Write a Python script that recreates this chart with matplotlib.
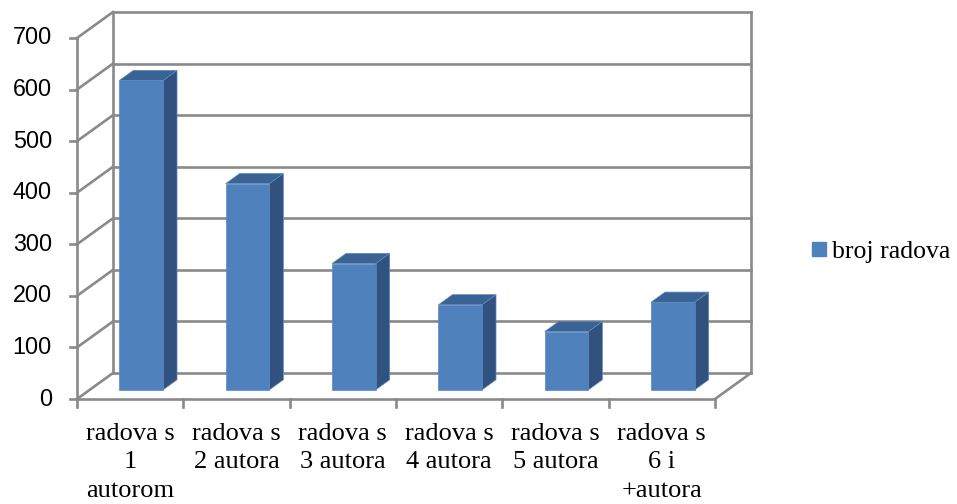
import matplotlib
matplotlib.use("Agg")
import matplotlib.pyplot as plt
from matplotlib.patches import Polygon, Patch

categories = ["radova s\n1\nautorom", "radova s\n2 autora", "radova s\n3 autora",
              "radova s\n4 autora", "radova s\n5 autora", "radova s\n6 i\n+autora"]
values = [600, 400, 245, 165, 113, 170]
yticks = [0, 100, 200, 300, 400, 500, 600, 700]
series_name = "broj radova"

W, H, DPI = 957, 504, 100
fig = plt.figure(figsize=(W / DPI, H / DPI), dpi=DPI)
fig.patch.set_facecolor("white")

# plot-area (front plane) in pixels
px_left, px_right, px_bottom, px_top = 77, 715, 399, 38
ax = fig.add_axes([px_left / W, 1 - px_bottom / H, (px_right - px_left) / W, (px_bottom - px_top) / H])
ncat = len(categories)
ymax = yticks[-1]
ax.set_xlim(0, ncat)
ax.set_ylim(0, ymax)
ax.axis("off")

ppx = (px_right - px_left) / ncat          # pixels per category
ppy = (px_bottom - px_top) / ymax          # pixels per value unit
Dx, Dy = 36 / ppx, 26 / ppy                # depth vector in data units

grid_c = "#8a8a8a"
glw = 1.9

def P(x, y, f):
    return (x + f * Dx, y + f * Dy)

def line(pts, **kw):
    xs, ys = zip(*pts)
    ax.plot(xs, ys, color=grid_c, lw=glw, clip_on=False, solid_capstyle="projecting",
            solid_joinstyle="miter", **kw)

# back wall gridlines & side wall diagonals
for v in yticks:
    line([P(0, v, 1), P(ncat, v, 1)], zorder=1)
    line([P(0, v, 0), P(0, v, 1)], zorder=1)
    line([(-7 / ppx, v), (0, v)], zorder=1)
# back wall verticals
line([P(0, 0, 1), P(0, ymax, 1)], zorder=1)
line([P(ncat, 0, 1), P(ncat, ymax, 1)], zorder=1)
# front axis vertical
line([(0, 0), (0, ymax)], zorder=1)
# floor
line([P(0, 0, 0), P(ncat, 0, 0)], zorder=1)
line([P(ncat, 0, 0), P(ncat, 0, 1)], zorder=1)
# category ticks
for i in range(ncat + 1):
    line([(i, 0), (i, -8 / ppy)], zorder=1)

# bars
front_c, side_c, top_c = "#4F81BD", "#31527E", "#3A6394"
f0, f1 = 0.35, 0.74
bw = 0.41
for i, v in enumerate(values):
    x0 = i + 0.485 - bw / 2
    x1 = x0 + bw
    side = [P(x1, 0, f0), P(x1, 0, f1), P(x1, v, f1), P(x1, v, f0)]
    top = [P(x0, v, f0), P(x1, v, f0), P(x1, v, f1), P(x0, v, f1)]
    front = [P(x0, 0, f0), P(x1, 0, f0), P(x1, v, f0), P(x0, v, f0)]
    for poly, c in [(side, side_c), (top, top_c), (front, front_c)]:
        ax.add_patch(Polygon(poly, closed=True, facecolor=c, edgecolor="#5a88c0",
                             lw=0.5, zorder=3, clip_on=False))

# y tick labels
for v in yticks:
    ax.text(-25 / ppx, v, str(v), ha="right", va="center", fontsize=16.8,
            family="Liberation Sans", color="black", clip_on=False)

# category labels
for i, lab in enumerate(categories):
    ax.text(i + 0.5, -24 / ppy, lab, ha="center", va="top", fontsize=19,
            family="Liberation Serif", color="black", linespacing=1.38, clip_on=False)

# legend
handle = Patch(facecolor=front_c, edgecolor=front_c)
fig.legend([handle], [series_name], loc="center left",
           bbox_to_anchor=(799 / W, 1 - 252 / H), frameon=False,
           prop={"family": "Liberation Serif", "size": 18.5},
           handlelength=0.55, handleheight=0.5, handletextpad=0.25, borderpad=0)

fig.savefig("out.png", dpi=DPI, facecolor="white")
